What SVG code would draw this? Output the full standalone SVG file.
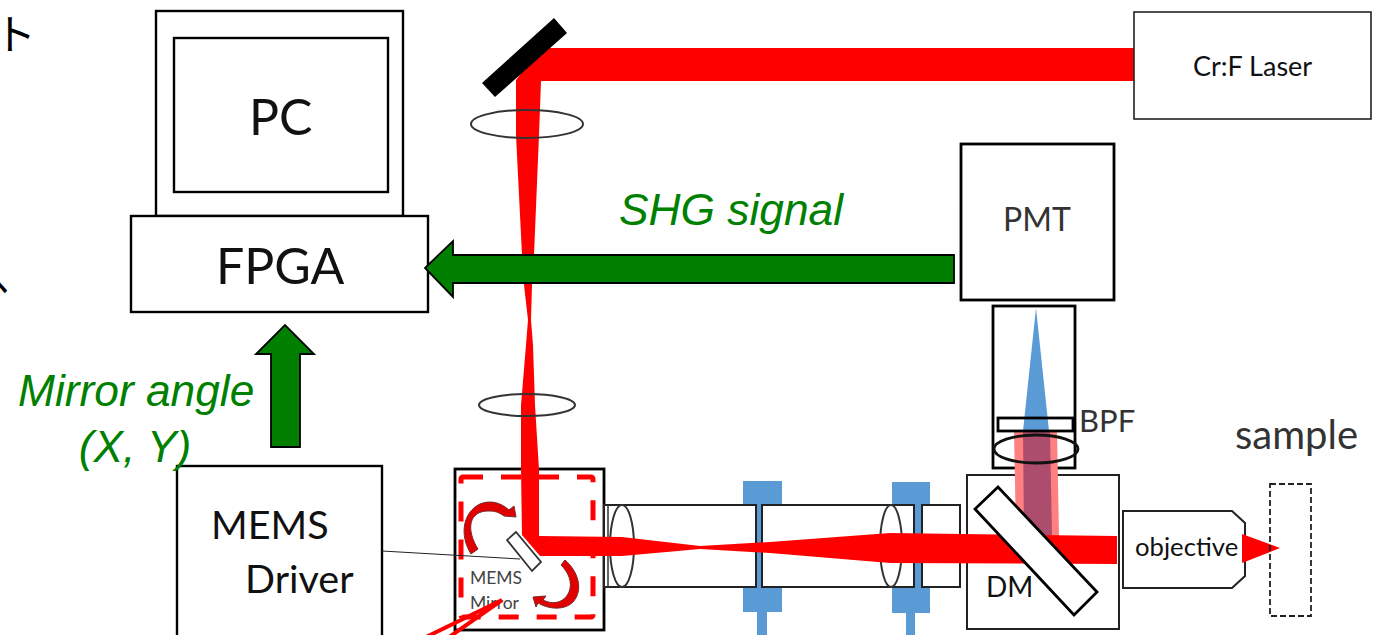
<svg xmlns="http://www.w3.org/2000/svg" width="1375" height="635" viewBox="0 0 1375 635">
<style>
.box{fill:#fff;stroke:#000;stroke-width:2.4}
.thin{fill:#fff;stroke:#222;stroke-width:2}
.lens{fill:none;stroke:#333;stroke-width:2}
.red{fill:#f00}
.blue{fill:#5b9bd5}
.t{font-family:Lato,"Noto Sans CJK JP",sans-serif;fill:#111}
.g{font-family:"Liberation Sans",Arial,sans-serif;font-style:italic;font-size:44.300px;fill:#008000}
.garrow{fill:#007f00;stroke:#000;stroke-width:1.8}
.arc{fill:#e00000;stroke:#7a2a2a;stroke-width:1}
</style>
<rect width="1375" height="635" fill="#fff"/>
<rect x="543" y="210" width="789" height="375" fill="#fefefe"/>
<text class="t" x="-6" y="50" font-size="42" style="fill:#000">ト</text>
<text class="t" x="-27" y="295" font-size="36" style="fill:#000">ヘ</text>

<g id="posts">
<rect class="blue" x="743" y="481" width="39" height="131"/>
<rect class="blue" x="757" y="612" width="10" height="23"/>
<rect class="blue" x="892" y="482" width="38" height="131"/>
<rect class="blue" x="906" y="613" width="9" height="22"/>
</g>
<g id="mems-mirror-box">
<rect class="box" x="455" y="469" width="149" height="161" style="stroke-width:2.800"/>
<rect x="461" y="477" width="132" height="140" rx="2" fill="none" stroke="#f00" stroke-width="5" stroke-dasharray="20 18"/>
</g>
<g id="relay-tube">
<rect class="thin" x="604" y="505" width="152" height="82"/>
<path d="M608 505V587" class="lens" style="stroke-width:1.500"/>
<ellipse class="lens" cx="622" cy="546" rx="12" ry="41"/>
<rect class="thin" x="762" y="505" width="152" height="82"/>
<rect class="thin" x="922" y="505" width="38" height="82"/>
<ellipse class="lens" cx="891" cy="546" rx="11" ry="41"/>
</g>
<g id="dm-box"><rect class="thin" x="967" y="475" width="152" height="154"/></g>
<g id="pmt-tube">
<rect class="box" x="993" y="306" width="82" height="162" style="stroke-width:2.800"/>
</g>
<g id="detection-beam">
<path class="blue" d="M1036 308L1049 431H1023Z"/>
<path fill="#ff8080" d="M1014 431H1057L1059 536H1016Z"/>
<path fill="#ad4d6d" d="M1023 431H1050L1052 536H1024Z"/>
<path class="blue" d="M1050 535L1052 536V546Z"/>
</g>
<g id="bpf">
<rect x="998" y="418" width="75" height="13" fill="none" stroke="#000" stroke-width="2.800"/>
<ellipse cx="1036" cy="449" rx="42" ry="14" fill="none" stroke="#111" stroke-width="2.800"/>
</g>
<g id="laser-beam">
<path class="red" d="M1135 48H540L516 80L516 135L522 255L524 285L528 320L526 345L521 405L521 470L522 535L540 556H622L700 549L770 553L890 563L1117 564V536L890 533L770 542L700 546L622 537L539 536L539 470L535 405L533 345L531 320L532 285L534 255L539 135L541 81H1135Z"/>
</g>
<g id="turn-mirror">
<path d="M554 18L567 33L495 97L482 83Z" fill="#000"/>
<ellipse class="lens" cx="527" cy="124" rx="56" ry="14"/>
<ellipse class="lens" cx="527" cy="405" rx="48" ry="11"/>
</g>
<g id="dichroic">
<path d="M998 487L975 509L1074 615L1097 592Z" fill="#fff" stroke="#000" stroke-width="2.800"/>
<text class="t" x="986" y="597" font-size="28">DM</text>
</g>
<g id="pc">
<rect class="box" x="156" y="11" width="247" height="205"/>
<rect class="box" x="174" y="38" width="214" height="154"/>
<text class="t" x="249" y="135" font-size="50">PC</text>
</g>
<g id="fpga">
<rect class="box" x="131" y="216" width="297" height="96"/>
<text class="t" x="216" y="284" font-size="50">FPGA</text>
</g>
<g id="mems-driver">
<rect class="box" x="177" y="466" width="205" height="180"/>
<text class="t" x="211" y="539" font-size="39.500">MEMS</text>
<text class="t" x="245" y="593" font-size="39.500">Driver</text>
</g>
<g id="laser">
<rect class="thin" x="1134" y="12" width="237" height="107" style="stroke-width:1.600"/>
<text class="t" x="1193" y="76" font-size="27">Cr:F Laser</text>
</g>
<g id="pmt">
<rect class="box" x="961" y="144" width="153" height="156" style="stroke-width:2.800"/>
<text class="t" x="1003" y="231" font-size="32" style="fill:#333">PMT</text>
</g>
<g id="objective">
<path class="thin" d="M1123 511H1232L1245 523V576L1232 588H1123Z"/>
<text class="t" x="1135" y="556" font-size="25.700">objective</text>
<path class="red" d="M1242 534L1280 548L1242 563Z"/>
</g>
<g id="sample">
<rect x="1270" y="484" width="41" height="132" fill="none" stroke="#222" stroke-width="1.800" stroke-dasharray="6 3"/>
<text class="t" x="1235" y="449" font-size="40" style="fill:#333">sample</text>
</g>
<text class="t" x="1079" y="432" font-size="31" style="fill:#333">BPF</text>

<g id="connectors">
<path class="garrow" d="M954 255H453V241L425 268L453 297V283H954Z"/>
<path class="garrow" d="M271 447V354H256L285 325L314 354H300V447Z"/>
<path d="M382 551L520 559" fill="none" stroke="#222" stroke-width="1"/>
</g>
<g id="mems-mirror">
<path d="M516 532L507 540L532 571L541 562Z" fill="#fff" stroke="#333" stroke-width="1.800"/>
<path class="arc" d="M478 549C466 530 468 510 490 511C497 511 501 514 504 516L516 517L514 506L509 510C500 502 490 500 480 504C463 512 459 535 471 554Z"/>
<path class="arc" d="M565 560C578 571 584 590 573 602C564 611 548 609 538 603L536 607L533 597L546 596L543 600C553 605 564 603 569 592C573 582 568 572 561 565Z"/>
<text class="t" x="470" y="584" font-size="17.500" style="fill:#444">MEMS</text>
<text class="t" x="470" y="609" font-size="17.500" style="fill:#444">Mirror</text>
<path d="M420 640L502 600L445 640" fill="none" stroke="#f00" stroke-width="4"/>
</g>
<text class="g" x="619" y="225">SHG signal</text>
<text class="g" x="18" y="406">Mirror angle</text>
<text class="g" x="135" y="462" text-anchor="middle">(X, Y)</text>
</svg>
